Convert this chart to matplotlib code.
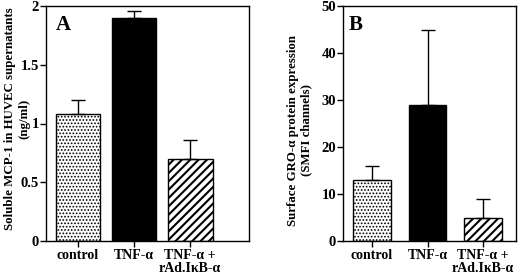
import matplotlib
matplotlib.use("Agg")
import matplotlib.pyplot as plt
import numpy as np

plt.rcParams['font.family'] = ['Liberation Serif', 'DejaVu Serif']
plt.rcParams['font.weight'] = 'bold'

categories = ["control", "TNF-α", "TNF-α +\nrAd.IκB-α"]
mcp1_values = [1.08, 1.90, 0.70]
mcp1_err = [0.12, 0.06, 0.16]
gro_values = [13, 29, 5]
gro_err = [3, 16, 4]
ylabel_A = ["Soluble MCP-1 in HUVEC supernatants", "(ng/ml)"]
ylabel_B = ["Surface GRO-α protein expression", "(SMFI channels)"]

W, H = 520, 279
fig = plt.figure(figsize=(5.2, 2.79), dpi=100)
axA = fig.add_axes([46/W, 1-241/H, 203/W, 235/H])
axB = fig.add_axes([343/W, 1-241/H, 173/W, 235/H])

hatches = ['.....', None, '////']
faces = ['white', 'black', 'white']

def draw(ax, vals, errs, width, xlim, ylim, yticks, yticklabels, ylabel, letter,
         lab_px, let_x):
    x = np.arange(len(vals))
    for i in range(len(vals)):
        plt.rcParams['hatch.linewidth'] = 0.8 if i == 0 else 1.5
        ax.bar(x[i], vals[i], width=width, color=faces[i], edgecolor='black',
               hatch=hatches[i], linewidth=1.0, zorder=2)
        ax.errorbar(x[i], vals[i], yerr=[[0], [errs[i]]], fmt='none',
                    ecolor='black', elinewidth=1.0, capsize=5, capthick=1.0, zorder=3)
    ax.set_xlim(*xlim)
    ax.set_ylim(*ylim)
    ax.set_yticks(yticks)
    ax.set_yticklabels(yticklabels, fontsize=10.5, fontweight='bold')
    ax.set_xticks(x)
    ax.set_xticklabels(categories, fontsize=10, fontweight='bold', linespacing=1.0)
    ax.tick_params(axis='y', direction='out', length=4, width=1.0, pad=1)
    ax.tick_params(axis='x', direction='out', length=4, width=1.0, pad=2)
    (x1, x2, yc) = lab_px
    fig.text(x1/W, 1-yc/H, ylabel[0], rotation=90, ha='center', va='center',
             fontsize=9.3, fontweight='bold')
    fig.text(x2/W, 1-yc/H, ylabel[1], rotation=90, ha='center', va='center',
             fontsize=9.3, fontweight='bold')
    for s in ax.spines.values():
        s.set_linewidth(1.0)
    ax.text(let_x, 0.962, letter, transform=ax.transAxes, fontsize=15,
            fontweight='bold', va='top', ha='left')

draw(axA, mcp1_values, mcp1_err, 0.8, (-0.57, 3.05), (0, 2),
     [0, 0.5, 1, 1.5, 2], ["0", "0.5", "1", "1.5", "2"],
     ylabel_A, "A", (10, 24, 119), 0.05)
draw(axB, gro_values, gro_err, 0.68, (-0.52, 2.59), (0, 50),
     [0, 10, 20, 30, 40, 50], ["0", "10", "20", "30", "40", "50"],
     ylabel_B, "B", (293, 306, 130.5), 0.03)

fig.savefig("out.png", dpi=100)
